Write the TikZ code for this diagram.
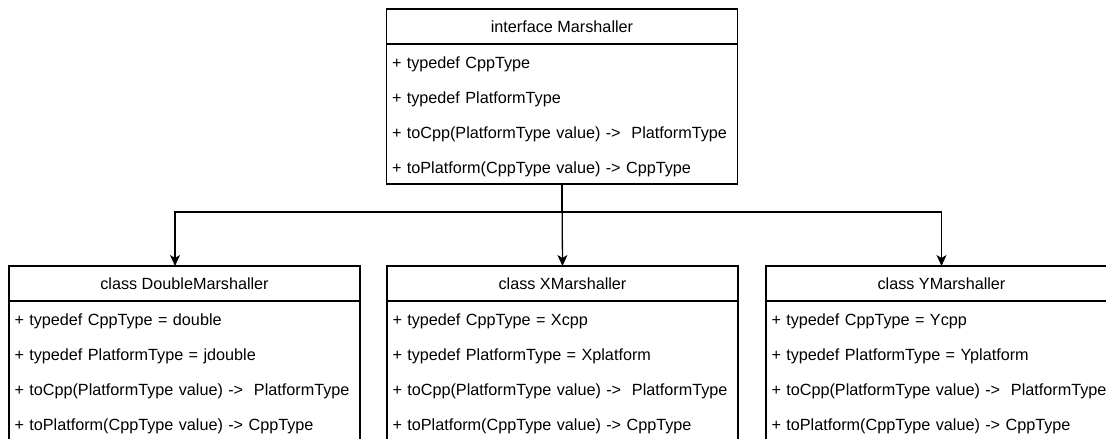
\documentclass[tikz,border=0pt]{standalone}
\usepackage{fontspec}
\setmainfont{Liberation Sans}
\usetikzlibrary{positioning, arrows.meta}

\begin{document}
\begin{tikzpicture}[x=1pt, y=-1pt,
      title/.style={
        draw,
        minimum width=351pt,
        minimum height=35pt,
        inner sep=0pt,
        outer sep=0pt
      },
      members/.style={
        draw,
        text width=340pt,
        inner xsep=5.5pt,
        inner ysep=0pt,
        minimum height=140pt,
        align=left,
        outer sep=0pt,
        execute at begin node=\rule{0pt}{17.5pt}
      },
      font=\fontsize{16.2}{35}\selectfont,
      line width=1.3pt,
      >={Stealth[length=11pt, width=10pt, inset=3pt]}]

    \useasboundingbox (0,0) rectangle (1106,439);
    \clip (0,0) rectangle (1106,439);

    \node[title] (M) at (562,26.5) {interface Marshaller};
    \node[members, below=0pt of M] (Mm) {+ typedef CppType\\
      + typedef PlatformType\\
      + toCpp(PlatformType value) -> \ PlatformType\\
      + toPlatform(CppType value) -> CppType};

    \node[title] (D) at (184.5,283.5) {class DoubleMarshaller};
    \node[members, below=0pt of D] (Dm) {+ typedef CppType = double\\
      + typedef PlatformType = jdouble\\
      + toCpp(PlatformType value) -> \ PlatformType\\
      + toPlatform(CppType value) -> CppType};

    \node[title] (X) at (562.5,283.5) {class XMarshaller};
    \node[members, below=0pt of X] (Xm) {+ typedef CppType = Xcpp\\
      + typedef PlatformType = Xplatform\\
      + toCpp(PlatformType value) -> \ PlatformType\\
      + toPlatform(CppType value) -> CppType};

    \node[title] (Y) at (941.5,283.5) {class YMarshaller};
    \node[members, below=0pt of Y] (Ym) {+ typedef CppType = Ycpp\\
      + typedef PlatformType = Yplatform\\
      + toCpp(PlatformType value) -> \ PlatformType\\
      + toPlatform(CppType value) -> CppType};

    \draw[->] (Mm.south) -- ++(0,28) -| ([xshift=-9.5pt]D.north);
    \draw[->] (Mm.south) -- (X.north);
    \draw[->] (Mm.south) -- ++(0,28) -| (Y.north);
  \end{tikzpicture}
\end{document}
